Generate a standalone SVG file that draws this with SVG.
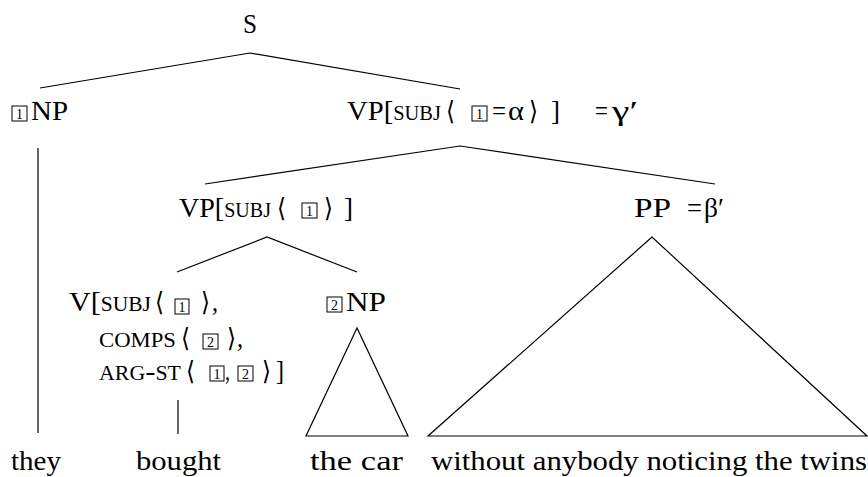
<svg xmlns="http://www.w3.org/2000/svg" width="868" height="477" viewBox="0 0 868 477">
<style>
text{font-family:"Liberation Serif","DejaVu Serif",serif;font-size:28px;fill:#000}
.sc{font-variant:small-caps}
.br{font-family:"DejaVu Serif","Liberation Serif",serif;font-size:26px}
.num{font-size:14px;text-anchor:middle}
.box{fill:none;stroke:#000;stroke-width:1}
.ln{stroke:#000;stroke-width:1.2;fill:none}
</style>
<rect width="868" height="477" fill="#fff"/>
<g id="connectors">
<polyline class="ln" points="40,88 250,53 460,89"/>
<line class="ln" x1="38" y1="148" x2="38" y2="433"/>
<polyline class="ln" points="205,184 460,146 715,184"/>
<polyline class="ln" points="177,272 267,237 357,272"/>
<line class="ln" x1="178" y1="400" x2="178" y2="434"/>
<polygon class="ln" points="357,328 306,436 408,436"/>
<polygon class="ln" points="652,237 428,436 867,436"/>
</g>
<g id="S"><text x="243" y="33" textLength="14" lengthAdjust="spacingAndGlyphs">S</text></g>
<g id="NP1">
<rect class="box" x="12" y="106" width="15" height="15"/><text class="num" x="19.5" y="119">1</text>
<text x="31" y="120" textLength="37" lengthAdjust="spacingAndGlyphs">NP</text>
</g>
<g id="VPtop">
<text x="347" y="120" textLength="94" lengthAdjust="spacingAndGlyphs">VP[<tspan class="sc">subj</tspan></text>
<text class="br" x="446" y="120" textLength="9" lengthAdjust="spacingAndGlyphs">⟨</text>
<rect class="box" x="472" y="106" width="15" height="15"/><text class="num" x="479.5" y="119">1</text>
<text x="492" y="120" textLength="14" lengthAdjust="spacingAndGlyphs">=</text>
<text x="508" y="120" textLength="16" lengthAdjust="spacingAndGlyphs">α</text>
<text class="br" x="529" y="120" textLength="9" lengthAdjust="spacingAndGlyphs">⟩</text>
<text x="551" y="120" textLength="9" lengthAdjust="spacingAndGlyphs">]</text>
<text x="595" y="120" textLength="13" lengthAdjust="spacingAndGlyphs">=</text>
<text x="612" y="120" textLength="26" lengthAdjust="spacingAndGlyphs">γ′</text>
</g>
<g id="VP2">
<text x="179" y="217" textLength="92" lengthAdjust="spacingAndGlyphs">VP[<tspan class="sc">subj</tspan></text>
<text class="br" x="277" y="217" textLength="9" lengthAdjust="spacingAndGlyphs">⟨</text>
<rect class="box" x="302" y="203" width="15" height="15"/><text class="num" x="309.5" y="216">1</text>
<text class="br" x="324" y="217" textLength="9" lengthAdjust="spacingAndGlyphs">⟩</text>
<text x="344" y="217" textLength="9" lengthAdjust="spacingAndGlyphs">]</text>
</g>
<g id="PP">
<text x="634" y="217" textLength="37" lengthAdjust="spacingAndGlyphs">PP</text>
<text x="687" y="217" textLength="15" lengthAdjust="spacingAndGlyphs">=</text>
<text x="704" y="217" textLength="20" lengthAdjust="spacingAndGlyphs">β′</text>
</g>
<g id="V">
<text x="69" y="311" textLength="82" lengthAdjust="spacingAndGlyphs">V[<tspan class="sc">subj</tspan></text>
<text class="br" x="155" y="311" textLength="9" lengthAdjust="spacingAndGlyphs">⟨</text>
<rect class="box" x="175" y="299" width="14" height="15"/><text class="num" x="182" y="312">1</text>
<text class="br" x="201" y="311" textLength="9" lengthAdjust="spacingAndGlyphs">⟩</text>
<text x="212" y="311" textLength="6" lengthAdjust="spacingAndGlyphs">,</text>
<text class="sc" x="99" y="347" textLength="77" lengthAdjust="spacingAndGlyphs">comps</text>
<text class="br" x="181" y="347" textLength="9" lengthAdjust="spacingAndGlyphs">⟨</text>
<rect class="box" x="203" y="334" width="15" height="15"/><text class="num" x="210.5" y="347">2</text>
<text class="br" x="227" y="347" textLength="9" lengthAdjust="spacingAndGlyphs">⟩</text>
<text x="237" y="347" textLength="6" lengthAdjust="spacingAndGlyphs">,</text>
<text class="sc" x="99" y="380" textLength="82" lengthAdjust="spacingAndGlyphs">arg-st</text>
<text class="br" x="186" y="380" textLength="9" lengthAdjust="spacingAndGlyphs">⟨</text>
<rect class="box" x="210" y="366" width="14" height="15"/><text class="num" x="217" y="379">1</text>
<text x="225" y="380" textLength="5" lengthAdjust="spacingAndGlyphs">,</text>
<rect class="box" x="238" y="366" width="15" height="15"/><text class="num" x="245.5" y="379">2</text>
<text class="br" x="262" y="380" textLength="9" lengthAdjust="spacingAndGlyphs">⟩</text>
<text x="276" y="380" textLength="8" lengthAdjust="spacingAndGlyphs">]</text>
</g>
<g id="NP2">
<rect class="box" x="327" y="297" width="15" height="15"/><text class="num" x="334.5" y="310">2</text>
<text x="346" y="311" textLength="40" lengthAdjust="spacingAndGlyphs">NP</text>
</g>
<g id="words">
<text x="11" y="470" textLength="50" lengthAdjust="spacingAndGlyphs">they</text>
<text x="136" y="470" textLength="85" lengthAdjust="spacingAndGlyphs">bought</text>
<text x="310" y="470" textLength="93" lengthAdjust="spacingAndGlyphs">the car</text>
<text x="431" y="470" textLength="436" lengthAdjust="spacingAndGlyphs">without anybody noticing the twins</text>
</g>
</svg>
